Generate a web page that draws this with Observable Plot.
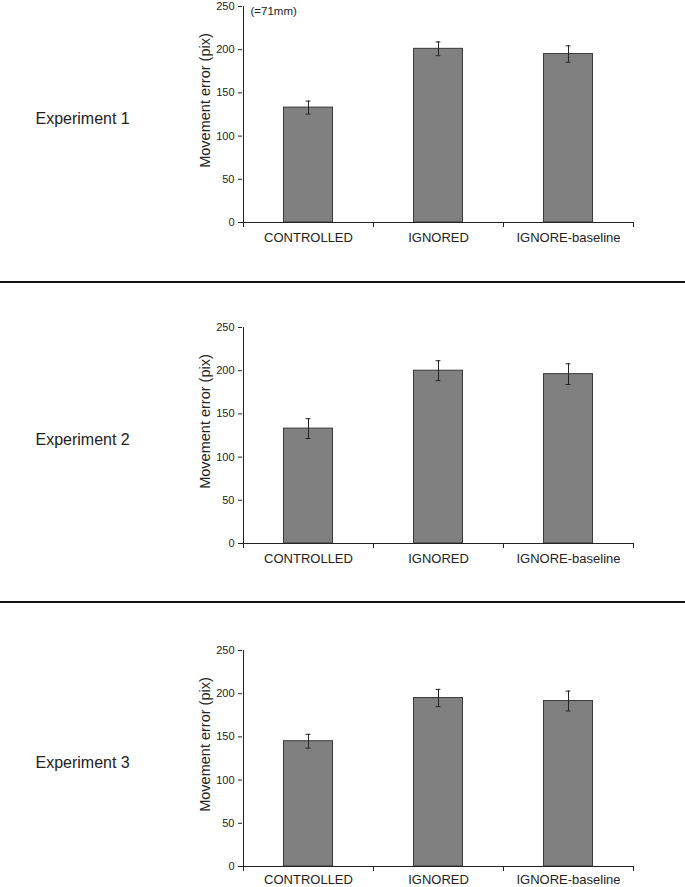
<!DOCTYPE html>
<html>
<head>
<meta charset="utf-8">
<script src="https://cdn.jsdelivr.net/npm/d3@7"></script>
<script src="https://cdn.jsdelivr.net/npm/@observablehq/plot@0.6"></script>
<style>
  html, body { margin: 0; padding: 0; background: #fff; }
  #root { position: relative; width: 685px; height: 887px; overflow: hidden; font-family: "Liberation Sans", Arial, sans-serif; }
  .panel { position: absolute; left: 0; }
  .sep { position: absolute; left: 0; width: 685px; height: 2px; background: #111; }
</style>
</head>
<body>
<div id="root"></div>
<script>
const categories = ["CONTROLLED", "IGNORED", "IGNORE-baseline"];
const yTicks = [0, 50, 100, 150, 200, 250];
const yLabel = "Movement error (pix)";
const experimentLabels = ["Experiment 1", "Experiment 2", "Experiment 3"];
const exp1Means = [133, 201, 195];
const exp1Errors = [7.5, 8, 9.5];
const exp2Means = [133, 200, 196];
const exp2Errors = [11.5, 11.5, 12];
const exp3Means = [145, 195, 191.5];
const exp3Errors = [8, 10, 11.5];
const noteText = "(=71mm)";

const font = "'Liberation Sans', Arial, sans-serif";

function axisLines(index, scales) {
  const x = scales.x, y = scales.y;
  const g = d3.create("svg:g").attr("stroke", "#222").attr("stroke-width", 1);
  const dom = x.domain();
  const left = x(dom[0]);
  const bounds = dom.map(d => x(d)).concat([x(dom[dom.length - 1]) + x.bandwidth()]);
  const y0 = y(0);
  g.append("line").attr("x1", left + 0.5).attr("x2", left + 0.5).attr("y1", y(250)).attr("y2", y0);
  g.selectAll("line.b").data(bounds).join("line").attr("class", "b")
    .attr("x1", d => d + 0.5).attr("x2", d => d + 0.5).attr("y1", y0).attr("y2", y0 + 5);
  return g.node();
}

function panel(label, means, errs, note, pad) {
  const data = categories.map((c, i) => ({cat: c, mean: means[i], err: errs[i]}));
  return Plot.plot({
    width: 685,
    height: 246,
    marginTop: 6,
    marginBottom: 24,
    marginLeft: 242,
    marginRight: 52,
    style: {fontFamily: font, color: "#222", background: "transparent", overflow: "visible"},
    x: {domain: categories, padding: 0, label: null},
    y: {domain: [0, 250], label: null},
    marks: [
      Plot.barY(data, {x: "cat", y: "mean", fill: "#808080", stroke: "#3a3a3a", strokeWidth: 1, insetLeft: 40.5, insetRight: 40.5}),
      Plot.ruleX(data, {x: "cat", y1: d => d.mean - d.err, y2: d => d.mean + d.err, stroke: "#222", strokeWidth: 1}),
      Plot.tickY(data, {x: "cat", y: d => d.mean + d.err, insetLeft: 62.6, insetRight: 62.6, stroke: "#222", strokeWidth: 1}),
      Plot.tickY(data, {x: "cat", y: d => d.mean - d.err, insetLeft: 62.6, insetRight: 62.6, stroke: "#222", strokeWidth: 1}),
      Plot.axisY({ticks: yTicks, tickSize: 4, tickPadding: 4, fontSize: 11, label: null, stroke: "#222"}),
      Plot.axisX({tickSize: 0, tickPadding: pad, fontSize: 13, label: null}),
      Plot.ruleY([0], {stroke: "#222", strokeWidth: 1}),
      axisLines,
      Plot.text([yLabel], {text: d => d, frameAnchor: "left", textAnchor: "middle", rotate: -90, dx: -37, dy: -14, fontSize: 14.5, fill: "#222"}),
      Plot.text([label], {text: d => d, frameAnchor: "left", textAnchor: "start", dx: -207, dy: 4, fontSize: 16, fill: "#222"}),
      note ? Plot.text([note], {text: d => d, frameAnchor: "top-left", textAnchor: "start", dx: 8, fontSize: 11.5, fill: "#222"}) : null
    ]
  });
}

const root = document.getElementById("root");
const panels = [
  [experimentLabels[0], exp1Means, exp1Errors, noteText, 0, 10],
  [experimentLabels[1], exp2Means, exp2Errors, null, 321, 10],
  [experimentLabels[2], exp3Means, exp3Errors, null, 644, 8]
];
for (const [label, m, e, note, top, pad] of panels) {
  const svg = panel(label, m, e, note, pad);
  svg.classList.add("panel");
  svg.style.top = top + "px";
  root.appendChild(svg);
}
for (const top of [281, 601]) {
  const s = document.createElement("div");
  s.className = "sep";
  s.style.top = top + "px";
  root.appendChild(s);
}
</script>
</body>
</html>
